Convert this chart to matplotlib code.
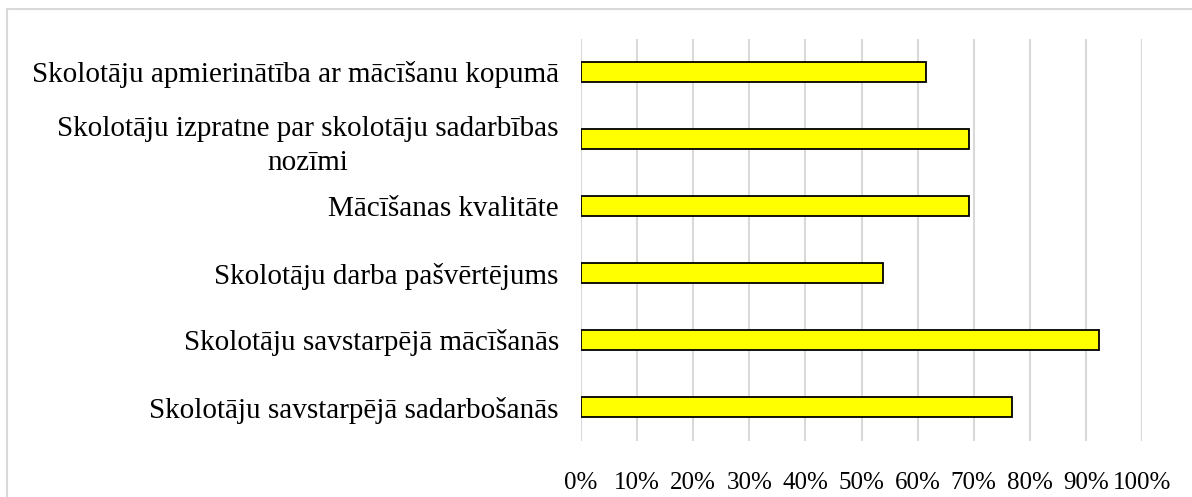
import matplotlib
matplotlib.use("Agg")
import matplotlib.pyplot as plt
from matplotlib.ticker import FuncFormatter, MultipleLocator
from matplotlib.patches import Rectangle

categories = [
    "Skolotāju apmierinātība ar mācīšanu kopumā",
    "Skolotāju izpratne par skolotāju sadarbības\nnozīmi",
    "Mācīšanas kvalitāte",
    "Skolotāju darba pašvērtējums",
    "Skolotāju savstarpējā mācīšanās",
    "Skolotāju savstarpējā sadarbošanās",
]
values = [61.5, 69.2, 69.2, 53.8, 92.3, 76.9]

plt.rcParams['font.family'] = ['Liberation Serif', 'DejaVu Serif']
W, H = 1192, 497
fig = plt.figure(figsize=(W / 100, H / 100), dpi=100)
ax = fig.add_axes([581 / W, 1 - 440.5 / H, (1142 - 581) / W, (440.5 - 38.5) / H])

ypos = list(range(len(categories)))[::-1]
ax.barh(ypos, values, height=0.31, color="#ffff00", edgecolor="black", linewidth=1.3, zorder=3)
ax.set_xlim(0, 100)
ax.set_ylim(-0.5, len(categories) - 0.5)
ax.set_yticks(ypos)
ax.set_yticklabels(categories, fontsize=21, multialignment="center", linespacing=1.42)
ax.xaxis.set_major_locator(MultipleLocator(10))
ax.xaxis.set_major_formatter(FuncFormatter(lambda v, p: f"{v:.0f}%"))
ax.tick_params(axis="x", labelsize=18, length=0, pad=23)
ax.tick_params(axis="y", length=0, pad=16)
ax.grid(axis="x", color="#d9d9d9", linewidth=1.5, zorder=0)
for s in ax.spines.values():
    s.set_visible(False)

fig.patches.append(Rectangle((7 / W, -0.1), 1.2, 1 - 9 / H + 0.1, transform=fig.transFigure,
                             fill=False, edgecolor="#d9d9d9", linewidth=1.5))
fig.savefig("out.png", dpi=100)
